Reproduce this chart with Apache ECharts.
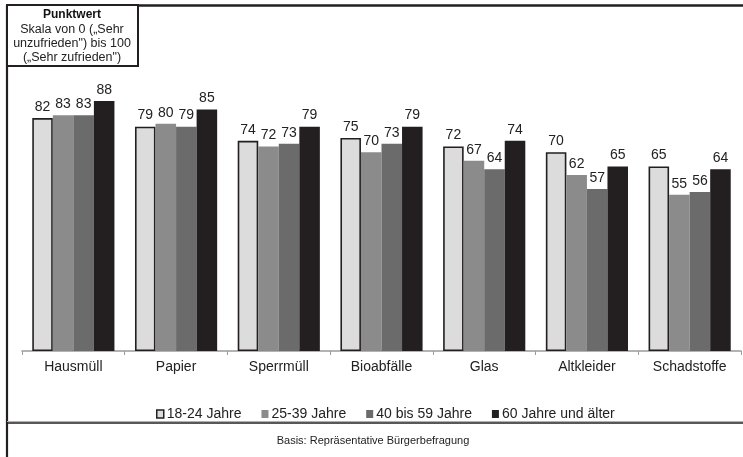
<!DOCTYPE html>
<html>
<head>
<meta charset="utf-8">
<script src="https://cdn.jsdelivr.net/npm/echarts@6/dist/echarts.min.js"></script>
<style>
  html, body { margin: 0; padding: 0; background: #fff; }
  #chart { width: 743px; height: 457px; }
</style>
</head>
<body>
<div id="chart"></div>
<script>
// Waste types surveyed
const categories = ['Hausmüll', 'Papier', 'Sperrmüll', 'Bioabfälle', 'Glas', 'Altkleider', 'Schadstoffe'];

// Satisfaction score (0–100) per age group
const age18to24 = [82, 79, 74, 75, 72, 70, 65];
const age25to39 = [83, 80, 72, 70, 67, 62, 55];
const age40to59 = [83, 79, 73, 73, 64, 57, 56];
const age60plus = [88, 85, 79, 79, 74, 65, 64];

const seriesNames = ['18-24 Jahre', '25-39 Jahre', '40 bis 59 Jahre', '60 Jahre und älter'];

const FONT = '"Liberation Sans", Arial, sans-serif';

const fills = ['#dcdcdc', '#8b8b8b', '#6b6b6b', '#231f20'];
const borders = ['#231f20', '#8b8b8b', '#6b6b6b', '#231f20'];
const borderW = [1.6, 0, 0, 0];

const dataSets = [age18to24, age25to39, age40to59, age60plus];

const chart = echarts.init(document.getElementById('chart'), null, { renderer: 'canvas' });

const series = dataSets.map((vals, i) => ({
  name: seriesNames[i],
  type: 'bar',
  data: vals,
  barGap: '0%',
  barCategoryGap: '20%',
  itemStyle: { color: fills[i], borderColor: borders[i], borderWidth: borderW[i] },
  label: {
    show: true,
    position: 'top',
    distance: 4,
    color: '#222',
    fontFamily: FONT,
    fontSize: 14
  },
  emphasis: { disabled: true }
}));

chart.setOption({
  animation: false,
  backgroundColor: '#fff',
  grid: { left: 22, right: 2, top: 67, bottom: 106, containLabel: false },
  legend: {
    data: seriesNames.map((n, i) => ({
      name: n,
      itemStyle: { color: fills[i], borderColor: borders[i], borderWidth: i === 0 ? 1.5 : 0 }
    })),
    left: 151,
    top: 402,
    itemWidth: 7,
    itemHeight: 8,
    itemGap: 20,
    icon: 'rect',
    textStyle: { fontFamily: FONT, fontSize: 14, color: '#222', padding: [0, 0, 0, -2] }
  },
  xAxis: {
    type: 'category',
    data: categories,
    axisLine: { lineStyle: { color: '#9a9a9a', width: 1.5 } },
    axisTick: { show: true, length: 4, inside: false, lineStyle: { color: '#9a9a9a' } },
    axisLabel: { fontFamily: FONT, fontSize: 14, color: '#222', margin: 9 }
  },
  yAxis: {
    type: 'value',
    min: 0,
    max: 100,
    show: false,
    splitLine: { show: false }
  },
  series: series,
  graphic: [
    // outer frame: left edge and top edge
    { type: 'line', shape: { x1: 7, y1: 5, x2: 7, y2: 457 }, style: { stroke: '#231f20', lineWidth: 2.2 } },
    { type: 'line', shape: { x1: 7, y1: 5.5, x2: 743, y2: 5.5 }, style: { stroke: '#231f20', lineWidth: 2.5 } },
    // separator above the footnote
    { type: 'line', shape: { x1: 7, y1: 421.5, x2: 743, y2: 421.5 }, style: { stroke: '#b0b0b0', lineWidth: 1 } },
    { type: 'line', shape: { x1: 7, y1: 423, x2: 743, y2: 423 }, style: { stroke: '#231f20', lineWidth: 1.5 } },
    // scale description box
    { type: 'rect', shape: { x: 7, y: 5, width: 131, height: 61 }, style: { fill: '#fff', stroke: '#231f20', lineWidth: 2 } },
    { type: 'text', style: { x: 72, y: 15, text: 'Punktwert', align: 'center', verticalAlign: 'middle', font: 'bold 12px ' + FONT, fill: '#111' } },
    { type: 'text', style: { x: 72, y: 30, text: 'Skala von 0 („Sehr', align: 'center', verticalAlign: 'middle', font: '12.5px ' + FONT, fill: '#222' } },
    { type: 'text', style: { x: 72, y: 44, text: 'unzufrieden") bis 100', align: 'center', verticalAlign: 'middle', font: '12.5px ' + FONT, fill: '#222' } },
    { type: 'text', style: { x: 72, y: 58, text: '(„Sehr zufrieden")', align: 'center', verticalAlign: 'middle', font: '12.5px ' + FONT, fill: '#222' } },
    // footnote
    { type: 'text', style: { x: 373, y: 441, text: 'Basis: Repräsentative Bürgerbefragung', align: 'center', verticalAlign: 'middle', font: '11px ' + FONT, fill: '#222' } }
  ]
});
</script>
</body>
</html>
